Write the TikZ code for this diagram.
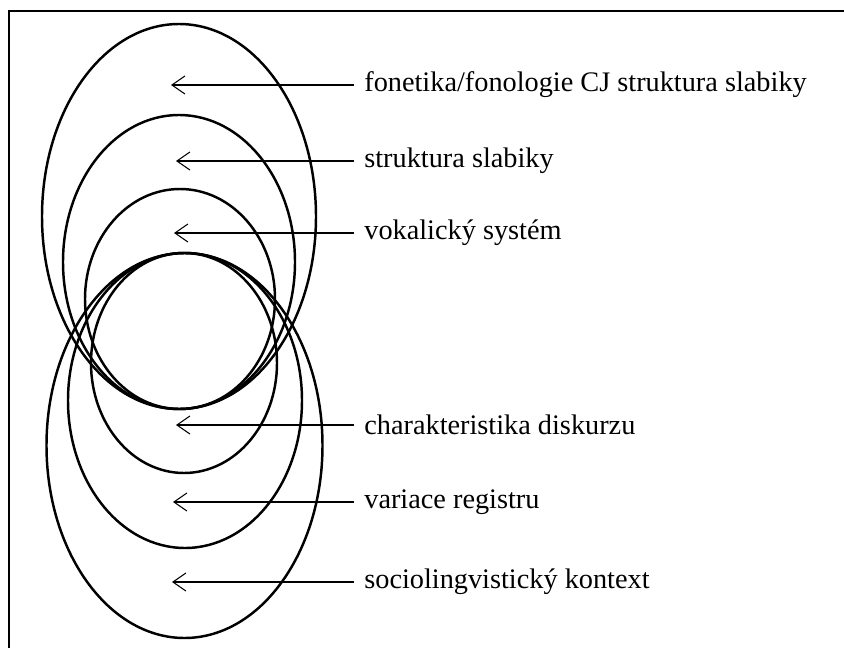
\documentclass[tikz,border=0pt]{standalone}
\usepackage{fontspec}
\setmainfont{Liberation Serif}
\usepackage{tikz}
\usetikzlibrary{arrows.meta}
\usetikzlibrary{positioning}

\begin{document}
\begin{tikzpicture}[
        ring/.style={line width=1.4pt},
        pointer/.style={line width=0.6pt,-{Straight Barb[length=2.6mm,width=3.6mm]}},
        lbl/.style={anchor=west,inner sep=0pt,font=\fontsize{16.1}{19}\selectfont}
    ]
        \useasboundingbox (0,0) rectangle (16.88,-12.96);
        % frame
        \draw[line width=1.1pt] (0.18,-12.96) -- (0.18,-0.22) -- (16.88,-0.22);
        % upper ellipses
        \draw[ring] (3.58,-4.33) ellipse (2.74 and 3.85);
        \draw[ring] (3.58,-5.24) ellipse (2.32 and 2.94);
        \draw[ring] (3.60,-5.98) ellipse (1.90 and 2.20);
        % lower ellipses
        \draw[ring] (3.68,-7.26) ellipse (1.86 and 2.20);
        \draw[ring] (3.70,-8.01) ellipse (2.34 and 2.95);
        \draw[ring] (3.69,-8.91) ellipse (2.76 and 3.85);
        % labels
        \node[lbl] (fon) at (7.28,-1.70) {fonetika/fonologie CJ struktura slabiky};
        \node[lbl] (slab) at (7.28,-3.22) {struktura slabiky};
        \node[lbl] (vok) at (7.28,-4.66) {vokalický systém};
        \node[lbl] (disk) at (7.28,-8.50) {charakteristika diskurzu};
        \node[lbl] (reg) at (7.28,-10.04) {variace registru};
        \node[lbl] (soc) at (7.28,-11.64) {sociolingvistický kontext};
        % arrow tips
        \coordinate (fonT) at (3.42,-1.70);
        \coordinate (slabT) at (3.52,-3.22);
        \coordinate (vokT) at (3.48,-4.66);
        \coordinate (diskT) at (3.52,-8.50);
        \coordinate (regT) at (3.46,-10.04);
        \coordinate (socT) at (3.44,-11.64);
        \draw[pointer] ([xshift=-2mm]fon.west) -- (fonT);
        \draw[pointer] ([xshift=-2mm]slab.west) -- (slabT);
        \draw[pointer] ([xshift=-2mm]vok.west) -- (vokT);
        \draw[pointer] ([xshift=-2mm]disk.west) -- (diskT);
        \draw[pointer] ([xshift=-2mm]reg.west) -- (regT);
        \draw[pointer] ([xshift=-2mm]soc.west) -- (socT);
    \end{tikzpicture}
\end{document}
